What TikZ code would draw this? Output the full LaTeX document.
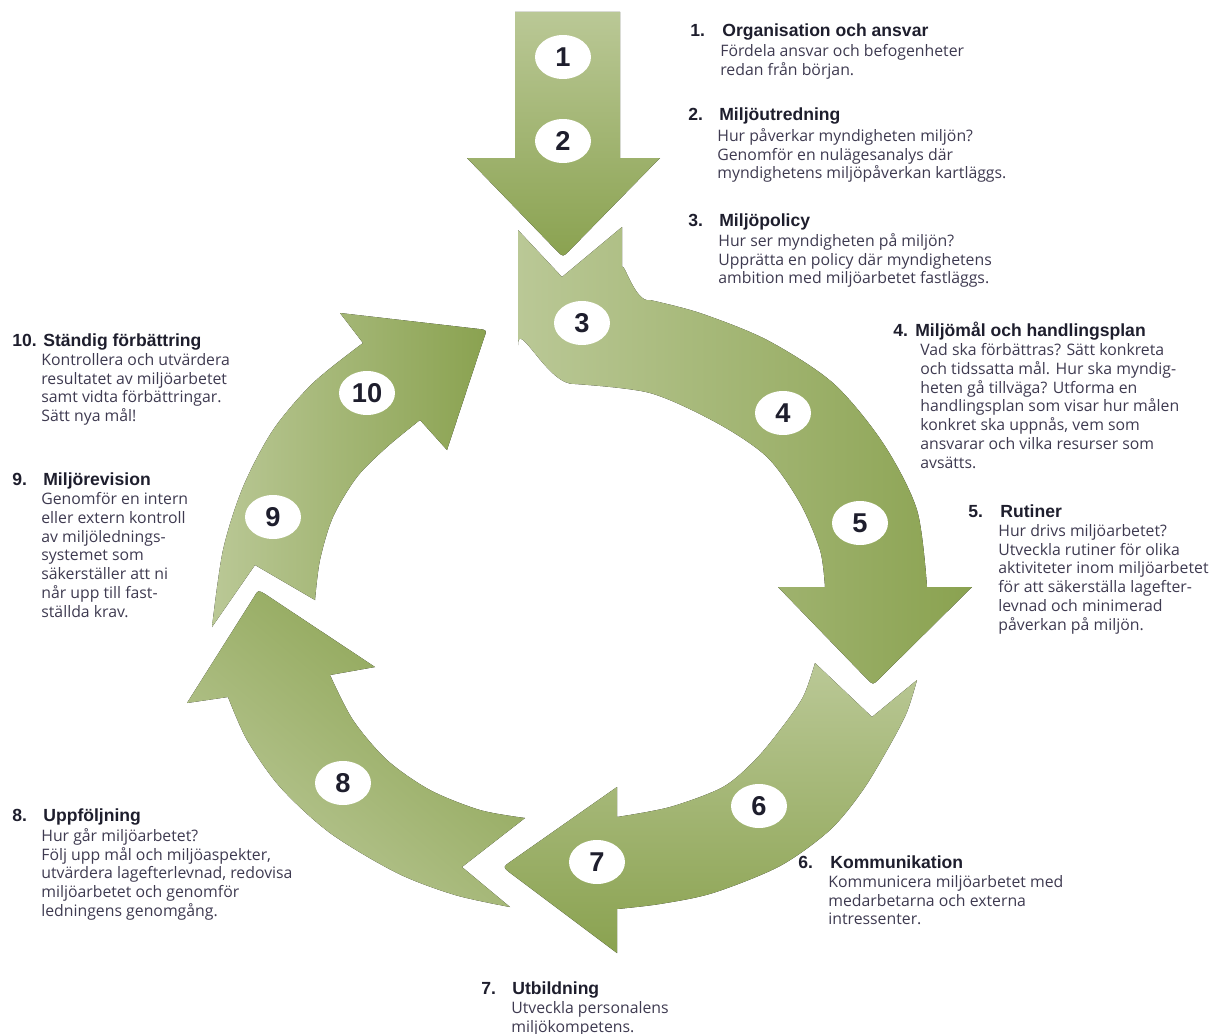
\documentclass[tikz,border=0pt]{standalone}
\usepackage{fontspec}
\setmainfont{Open Sans}
\newfontfamily\rubrikfamilj{Liberation Sans}
\usetikzlibrary{shapes.geometric}

\definecolor{ljusgron}{RGB}{186,200,150}
\definecolor{morkgron}{RGB}{138,162,80}
\definecolor{rubrikfarg}{RGB}{30,30,45}
\definecolor{brodfarg}{RGB}{62,58,80}

\begin{document}
\begin{tikzpicture}[x=0.02cm,y=-0.02cm]
\tikzset{
    %Define style for the arrow bodies
    pilkropp/.style={draw=none},
    %Define style for the number badges
    bricka/.style={
           ellipse,
           fill=white,
           inner sep=0pt,
           minimum width=1.12cm,
           minimum height=0.88cm,
           text=rubrikfarg,
           font=\rubrikfamilj\bfseries\fontsize{15.5}{15.5}\selectfont},
    % Define style for headings and their numbers
    rubrik/.style={
           anchor=base west,
           inner sep=0pt,
           text=rubrikfarg,
           font=\rubrikfamilj\bfseries\fontsize{10}{10.7}\selectfont},
    % Define style for the text blocks
    info/.style={
           anchor=north west,
           inner sep=0pt,
           align=left,
           text=brodfarg,
           font=\fontsize{9}{10.7}\selectfont}
}
	\useasboundingbox (0,0) rectangle (1224,1034);

 %arrows
	% 1-2, straight down
	\fill[pilkropp,top color=ljusgron,bottom color=morkgron]
	  (515,12) -- (620,12) -- (620,158) -- (660,158)
	  -- (569,251) .. controls (563,257) .. (557,251)
	  -- (467,158) -- (515,158) -- cycle;

	% 3-5
	\fill[pilkropp,left color=ljusgron,right color=morkgron]
	  (518,230) -- (562,277) -- (622,227) -- (622,270)
	  to[out=90,in=195] (650,300)
	  -- plot[smooth] coordinates {(650,300) (700,313) (767,340) (833,383) (883,443) (917,510) (927,587)}
	  -- (972,587) -- (879,679) .. controls (873,685) .. (867,679) -- (778,587) -- (825,587)
	  -- plot[smooth] coordinates {(825,587) (820,550) (800,503) (767,457) (717,423) (650,393) (575,384)}
	  to[out=185,in=90] (518,345) -- cycle;

	% 6-7
	\fill[pilkropp,top color=ljusgron,bottom color=morkgron]
	  (815,663) -- (872,717) -- (917,680)
	  -- plot[smooth] coordinates {(917,680) (907,712) (890,745) (863,790) (830,830) (780,866) (713,893) (660,904) (617,909)}
	  -- (617,953) -- (509,872) .. controls (503,867) .. (510,862) -- (617,787) -- (617,817)
	  -- plot[smooth] coordinates {(617,817) (670,807) (723,787) (755,760) (780,730) (803,697) (815,663)}
	  -- cycle;

	% 8
	\fill[pilkropp,top color=morkgron,bottom color=ljusgron,shading angle=-40]
	  (525,818) -- (462,867) -- (510,907)
	  -- plot[smooth] coordinates {(510,907) (455,895) (397,873) (330,833) (280,787) (247,740) (228,697)}
	  -- (187,703) -- (254,597) .. controls (258,590) .. (265,594) -- (375,667) -- (330,675)
	  -- plot[smooth] coordinates {(330,675) (353,720) (387,760) (430,790) (480,810) (525,818)}
	  -- cycle;

	% 9-10
	\fill[pilkropp,left color=ljusgron,right color=morkgron]
	  (212,627) -- (255,565) -- (315,600)
	  -- plot[smooth] coordinates {(315,600) (320,560) (333,517) (357,477) (387,447) (420,420)}
	  -- (447,450) -- (484,338) .. controls (487,330) .. (479,329) -- (340,313) -- (363,343)
	  -- plot[smooth] coordinates {(363,343) (313,383) (273,430) (243,487) (223,550) (212,627)}
	  -- cycle;

 %badges
	\node[bricka] (nr1) at (563,57) {1};
	\node[bricka] (nr2) at (563,141) {2};
	\node[bricka] (nr3) at (582,323) {3};
	\node[bricka] (nr4) at (783,413) {4};
	\node[bricka] (nr5) at (860,523) {5};
	\node[bricka] (nr6) at (759,806) {6};
	\node[bricka] (nr7) at (597,862) {7};
	\node[bricka] (nr8) at (343,783) {8};
	\node[bricka] (nr9) at (273,517) {9};
	\node[bricka] (nr10) at (367,393) {10};

 %texts
	\node[rubrik] (orgnr) at (690,37) {1.};
	\node[rubrik] (orgrub) at (722,37) {Organisation och ansvar};
	\node[info] (org) at (720,44) {Fördela ansvar och befogenheter\\
	  redan från början.};

	\node[rubrik] (utrednr) at (688,121) {2.};
	\node[rubrik] (utredrub) at (719,121) {Miljöutredning};
	\node[info] (utred) at (717,128) {Hur påverkar myndigheten miljön?\\
	  Genomför en nulägesanalys där\\
	  myndighetens miljöpåverkan kartläggs.};

	\node[rubrik] (policynr) at (688,226) {3.};
	\node[rubrik] (policyrub) at (719,226) {Miljöpolicy};
	\node[info] (policy) at (718,233) {Hur ser myndigheten på miljön?\\
	  Upprätta en policy där myndighetens\\
	  ambition med miljöarbetet fastläggs.};

	\node[rubrik] (malnr) at (893,336) {4.};
	\node[rubrik] (malrub) at (915,336) {Miljömål och handlingsplan};
	\node[info] (mal) at (920,343) {Vad ska förbättras? Sätt konkreta\\
	  och tidssatta mål. Hur ska myndig-\\
	  heten gå tillväga? Utforma en\\
	  handlingsplan som visar hur målen\\
	  konkret ska uppnås, vem som\\
	  ansvarar och vilka resurser som\\
	  avsätts.};

	\node[rubrik] (rutinnr) at (968,517) {5.};
	\node[rubrik] (rutinrub) at (1000,517) {Rutiner};
	\node[info] (rutin) at (998,524) {Hur drivs miljöarbetet?\\
	  Utveckla rutiner för olika\\
	  aktiviteter inom miljöarbetet\\
	  för att säkerställa lagefter-\\
	  levnad och minimerad\\
	  påverkan på miljön.};

	\node[rubrik] (kommnr) at (798,868) {6.};
	\node[rubrik] (kommrub) at (830,868) {Kommunikation};
	\node[info] (komm) at (828,875) {Kommunicera miljöarbetet med\\
	  medarbetarna och externa\\
	  intressenter.};

	\node[rubrik] (utbildnr) at (481,994) {7.};
	\node[rubrik] (utbildrub) at (512,994) {Utbildning};
	\node[info] (utbild) at (511,1001) {Utveckla personalens\\
	  miljökompetens.};

	\node[rubrik] (uppfnr) at (12,821) {8.};
	\node[rubrik] (uppfrub) at (43,821) {Uppföljning};
	\node[info] (uppf) at (41,828) {Hur går miljöarbetet?\\
	  Följ upp mål och miljöaspekter,\\
	  utvärdera lagefterlevnad, redovisa\\
	  miljöarbetet och genomför\\
	  ledningens genomgång.};

	\node[rubrik] (revisnr) at (12,485) {9.};
	\node[rubrik] (revisrub) at (43,485) {Miljörevision};
	\node[info] (revis) at (41,492) {Genomför en intern\\
	  eller extern kontroll\\
	  av miljölednings-\\
	  systemet som\\
	  säkerställer att ni\\
	  når upp till fast-\\
	  ställda krav.};

	\node[rubrik] (forbnr) at (12,346) {10.};
	\node[rubrik] (forbrub) at (43,346) {Ständig förbättring};
	\node[info] (forb) at (41,353) {Kontrollera och utvärdera\\
	  resultatet av miljöarbetet\\
	  samt vidta förbättringar.\\
	  Sätt nya mål!};

\end{tikzpicture}
\end{document}
